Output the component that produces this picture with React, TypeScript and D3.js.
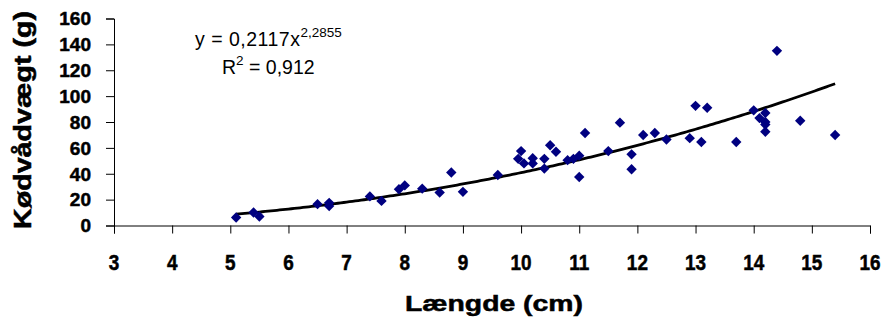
import { useRef, useEffect } from 'react'
import * as d3 from 'd3'

const lengths = [
  5.1, 5.4, 5.5, 6.5, 6.7, 6.7, 7.4, 7.6, 7.9, 8.0, 8.3, 8.6, 8.8, 9.0, 9.6,
  9.95, 10.0, 10.05, 10.2, 10.2, 10.4, 10.4, 10.5, 10.6, 10.8, 10.9, 11.0, 11.0,
  11.1, 11.5, 11.7, 11.9, 11.9, 12.1, 12.3, 12.5, 12.9, 13.0, 13.1, 13.2, 13.7,
  14.0, 14.1, 14.2, 14.2, 14.2, 14.2, 14.4, 14.8, 15.4,
]
const weights = [
  6.2, 10, 7, 16.5, 17.5, 15, 22.5, 19, 28, 31, 28.5, 25.5, 41, 26, 39,
  51.5, 57.5, 48, 52, 48, 51.5, 44, 62, 57, 50.5, 51.5, 54, 37.5,
  71.5, 57.5, 79.5, 55, 43.5, 70, 71.5, 66.5, 67.5, 92.5, 64.5, 91, 64.5,
  89, 83, 87, 80, 78, 72.5, 135, 81, 70,
]

const xTicks = [3, 4, 5, 6, 7, 8, 9, 10, 11, 12, 13, 14, 15, 16]
const yTicks = [0, 20, 40, 60, 80, 100, 120, 140, 160]

// Power trendline shown on the chart: y = 0,2117 x^2,2855
const trendA = 0.2117
const trendB = 2.2855

const FONT = "'Liberation Sans', Arial, sans-serif"

export default function App() {
  const svgRef = useRef<SVGSVGElement | null>(null)

  useEffect(() => {
    const svg = d3.select(svgRef.current)
    svg.selectAll('*').remove()

    const x = d3.scaleLinear().domain([3, 16]).range([114, 870])
    const y = d3.scaleLinear().domain([0, 160]).range([225.5, 18.5])

    const g = svg.append('g')

    // Axes
    const xAxis = d3.axisBottom(x).tickValues(xTicks).tickSize(8).tickFormat(() => '')
    g.append('g')
      .attr('transform', `translate(0,${y(0)})`)
      .call(xAxis)
      .call((s) => s.select('.domain').attr('stroke', '#000'))
      .call((s) => s.selectAll('.tick line').attr('stroke', '#000'))

    const yAxis = d3.axisLeft(y).tickValues(yTicks).tickSize(8).tickFormat(() => '')
    g.append('g')
      .attr('transform', `translate(${x(3)},0)`)
      .call(yAxis)
      .call((s) => s.select('.domain').attr('stroke', '#000'))
      .call((s) => s.selectAll('.tick line').attr('stroke', '#000'))

    // heavy bold look of the original labels
    const bold = (s: d3.Selection<SVGTextElement, unknown, null, undefined>) =>
      s
        .attr('font-family', FONT)
        .attr('font-weight', 'bold')
        .attr('stroke', '#000')
        .attr('stroke-width', 0.5)

    // X tick labels (slightly condensed, bold)
    xTicks.forEach((t) => {
      g.append('text')
        .attr('transform', `translate(${x(t)},270) scale(0.88,1)`)
        .attr('text-anchor', 'middle')
        .attr('font-size', '21.5px')
        .call(bold)
        .text(t)
    })

    // Y tick labels
    yTicks.forEach((t) => {
      g.append('text')
        .attr('x', 91)
        .attr('y', y(t))
        .attr('dy', '0.36em')
        .attr('text-anchor', 'end')
        .attr('font-size', '19px')
        .call(bold)
        .text(t)
    })

    // Axis titles
    g.append('text')
      .attr('x', 494)
      .attr('y', 311)
      .attr('text-anchor', 'middle')
      .attr('font-size', '22.5px')
      .attr('textLength', 178)
      .attr('lengthAdjust', 'spacingAndGlyphs')
      .call(bold)
      .text('Længde (cm)')

    g.append('text')
      .attr('transform', 'translate(31,120) rotate(-90)')
      .attr('text-anchor', 'middle')
      .attr('font-size', '23px')
      .attr('textLength', 218)
      .attr('lengthAdjust', 'spacingAndGlyphs')
      .call(bold)
      .text('Kødvådvægt (g)')

    // Trendline
    const [x0, x1] = d3.extent(lengths) as [number, number]
    const xs = d3.range(x0, x1 + 0.001, 0.05)
    const line = d3
      .line<number>()
      .x((d) => x(d))
      .y((d) => y(trendA * Math.pow(d, trendB)))
    g.append('path')
      .attr('d', line(xs))
      .attr('fill', 'none')
      .attr('stroke', '#000')
      .attr('stroke-width', 2.8)

    // Points (diamonds)
    const r = 5.2
    lengths.forEach((l, i) => {
      g.append('path')
        .attr('transform', `translate(${x(l)},${y(weights[i])})`)
        .attr('d', `M0,${-r}L${r},0L0,${r}L${-r},0Z`)
        .attr('fill', '#000080')
    })

    // Equation labels
    const eq = g.append('text')
      .attr('x', 195)
      .attr('y', 46)
      .attr('font-family', FONT)
      .attr('font-size', '19.5px')
      .attr('letter-spacing', '0.5px')
      .attr('fill', '#000')
    eq.append('tspan').text('y = 0,2117x')
    eq.append('tspan').attr('dy', -9.5).attr('font-size', '13.5px').attr('letter-spacing', '0px').text('2,2855')

    const r2 = g.append('text')
      .attr('x', 222)
      .attr('y', 74)
      .attr('font-family', FONT)
      .attr('font-size', '19.5px')
      .attr('fill', '#000')
    r2.append('tspan').text('R')
    r2.append('tspan').attr('dy', -9.5).attr('font-size', '13.5px').text('2')
    r2.append('tspan').attr('dy', 9.5).text(' = 0,912')
  }, [])

  return (
    <svg
      ref={svgRef}
      width={884}
      height={326}
      style={{ position: 'fixed', left: 0, top: 0, background: '#fff' }}
    />
  )
}
